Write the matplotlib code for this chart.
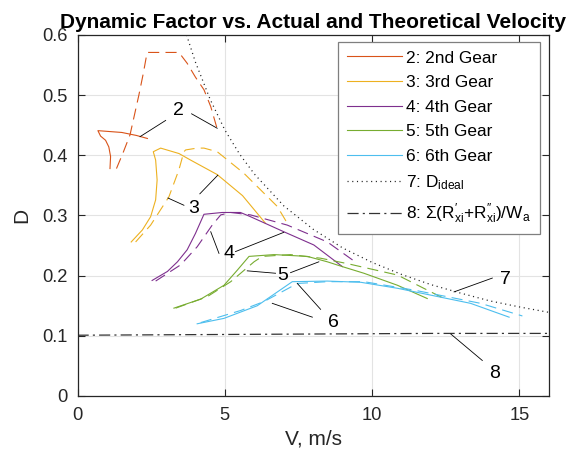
import matplotlib
matplotlib.use('Agg')
import matplotlib.pyplot as plt

plt.rcParams['font.family'] = ['Liberation Sans', 'DejaVu Sans']
plt.rcParams['mathtext.fontset'] = 'custom'
plt.rcParams['mathtext.rm'] = 'Liberation Sans'
plt.rcParams['mathtext.it'] = 'Liberation Sans:italic'
plt.rcParams['lines.scale_dashes'] = False

# gear curves, solid (actual) and dashed (theoretical)
v2 = [1.10, 1.12, 1.06, 0.95, 0.78, 0.69, 1.5, 2.0, 2.37]
d2 = [0.378, 0.398, 0.414, 0.425, 0.432, 0.441, 0.438, 0.433, 0.428]
v2_th = [1.32, 1.55, 1.78, 2.08, 2.23, 2.36, 2.9, 3.44, 3.72, 4.0, 4.29, 4.52, 4.78]
d2_th = [0.378, 0.405, 0.434, 0.500, 0.536, 0.571, 0.571, 0.571, 0.553, 0.530, 0.509, 0.481, 0.437]

v3 = [1.82, 2.20, 2.48, 2.65, 2.70, 2.65, 2.57, 2.82, 3.44, 3.84, 4.74, 5.6, 6.38]
d3 = [0.256, 0.276, 0.298, 0.326, 0.359, 0.392, 0.406, 0.412, 0.403, 0.392, 0.368, 0.333, 0.287]
v3_th = [1.97, 2.48, 3.10, 3.44, 3.61, 3.67, 4.06, 4.29, 4.74, 5.65, 6.78, 7.12]
d3_th = [0.256, 0.284, 0.331, 0.376, 0.406, 0.409, 0.412, 0.412, 0.406, 0.370, 0.315, 0.287]

v4 = [2.53, 3.05, 3.39, 3.72, 4.0, 4.29, 4.91, 5.53, 5.87, 7.0, 8.02, 8.99]
d4 = [0.192, 0.207, 0.223, 0.243, 0.270, 0.302, 0.305, 0.305, 0.298, 0.273, 0.251, 0.215]
v4_th = [2.65, 3.5, 4.06, 4.57, 4.86, 5.2, 5.87, 7.12, 8.48, 9.45]
d4_th = [0.191, 0.218, 0.248, 0.284, 0.301, 0.305, 0.301, 0.284, 0.256, 0.222]

v5 = [3.27, 4.18, 4.97, 5.42, 5.82, 6.67, 7.80, 8.48, 8.99, 9.72, 10.86, 11.87]
d5 = [0.146, 0.161, 0.184, 0.209, 0.232, 0.235, 0.232, 0.223, 0.215, 0.204, 0.184, 0.162]
v5_th = [3.33, 4.40, 5.2, 5.99, 6.27, 7.23, 8.25, 9.16, 10.86, 12.44]
d5_th = [0.146, 0.165, 0.190, 0.223, 0.232, 0.235, 0.229, 0.220, 0.201, 0.162]

v6 = [4.06, 4.97, 6.10, 7.29, 8.48, 9.61, 10.86, 13.34, 14.65]
d6 = [0.120, 0.129, 0.150, 0.190, 0.191, 0.189, 0.179, 0.154, 0.131]
v6_th = [4.18, 5.53, 6.33, 7.46, 8.48, 9.72, 11.42, 13.68, 15.1]
d6_th = [0.122, 0.142, 0.157, 0.187, 0.190, 0.190, 0.176, 0.154, 0.133]

v_ideal = [3.7, 4.0, 4.5, 5, 5.5, 6, 7, 8, 9, 10, 11, 12, 13, 14, 15, 16]
d_ideal = [0.600, 0.555, 0.493, 0.442, 0.402, 0.369, 0.316, 0.277, 0.246, 0.222,
           0.202, 0.185, 0.171, 0.158, 0.148, 0.139]

v_res = [0, 4, 8, 12, 16]
d_res = [0.101, 0.102, 0.103, 0.104, 0.104]

gear_colors = ['#D95319', '#EDB120', '#7E2F8E', '#77AC30', '#4DBEEE']
gear_labels = ['2: 2nd Gear', '3: 3rd Gear', '4: 4th Gear', '5: 5th Gear', '6: 6th Gear']

# number labels: (text x, text y, list of leader lines)
labels = {
    '2': (3.41, 0.475, [((2.99, 0.458), (2.12, 0.431)), ((3.87, 0.469), (4.74, 0.445))]),
    '3': (3.95, 0.312, [((3.61, 0.317), (3.07, 0.329)), ((4.15, 0.336), (4.76, 0.367))]),
    '4': (5.14, 0.237, [((4.80, 0.237), (4.52, 0.273)), ((5.36, 0.240), (7.0, 0.272))]),
    '5': (6.95, 0.201, [((6.72, 0.204), (5.76, 0.208)), ((7.23, 0.205), (8.19, 0.223))]),
    '6': (8.68, 0.122, [((7.97, 0.131), (6.61, 0.154)), ((8.25, 0.144), (7.46, 0.187))]),
    '7': (14.53, 0.193, [((14.08, 0.196), (12.78, 0.173))]),
    '8': (14.14, 0.038, [((13.74, 0.059), (12.67, 0.103))]),
}

fig = plt.figure(figsize=(5.79, 4.55), dpi=100)
ax = fig.add_axes([0.134, 0.1297, 0.814, 0.7934])

solid = [(v2, d2), (v3, d3), (v4, d4), (v5, d5), (v6, d6)]
dashed = [(v2_th, d2_th), (v3_th, d3_th), (v4_th, d4_th), (v5_th, d5_th), (v6_th, d6_th)]
handles = []
for (vs, ds), (vt, dt), c, lab in zip(solid, dashed, gear_colors, gear_labels):
    h, = ax.plot(vs, ds, color=c, lw=0.8, label=lab)
    ax.plot(vt, dt, color=c, lw=0.8, dashes=(8, 4.5))
    handles.append(h)

h7, = ax.plot(v_ideal, d_ideal, color='#222222', lw=0.9, linestyle=(0, (0.8, 2.6)),
              label='7: D$_{\\mathrm{ideal}}$')
h8, = ax.plot(v_res, d_res, color='#333333', lw=0.9, dashes=(8, 3, 1.5, 3),
              label="8: $\\Sigma$(R$^{\\prime}_{\\mathrm{xi}}$+R$^{\\prime\\prime}_{\\mathrm{xi}}$)/W$_{\\mathrm{a}}$")
handles += [h7, h8]

for txt, (tx, ty, leaders) in labels.items():
    ax.text(tx, ty, txt, fontsize=14, ha='center', va='center')
    for (x0, y0), (x1, y1) in leaders:
        ax.plot([x0, x1], [y0, y1], color='black', lw=0.6)

ax.set_xlim(0, 16)
ax.set_ylim(0, 0.6)
ax.set_xticks([0, 5, 10, 15])
ax.set_yticks([0, 0.1, 0.2, 0.3, 0.4, 0.5, 0.6])
ax.set_yticklabels(['0', '0.1', '0.2', '0.3', '0.4', '0.5', '0.6'])
ax.grid(True, color='#e3e3e3', lw=0.8)
ax.set_axisbelow(True)
ax.tick_params(direction='in', top=True, right=True, labelsize=13.2, length=5,
               colors='#262626', width=0.8)
ax.tick_params(axis='y', pad=7)
ax.tick_params(axis='x', pad=8)
for s in ax.spines.values():
    s.set_color('#262626')
    s.set_linewidth(0.9)

ax.set_xlabel('V, m/s', fontsize=15, color='#262626', labelpad=4)
ax.set_ylabel('D', fontsize=15, color='#262626', labelpad=8)
ax.set_title('Dynamic Factor vs. Actual and Theoretical Velocity', fontsize=15,
             fontweight='bold', pad=5)

leg = ax.legend(handles=handles, loc='upper right', bbox_to_anchor=(0.981, 0.981),
                borderaxespad=0, fontsize=12.4, handlelength=3.2, handletextpad=0.25,
                fancybox=False, framealpha=1, edgecolor='#7f7f7f', labelspacing=0.55,
                borderpad=0.5)
leg.get_frame().set_linewidth(0.9)

fig.savefig('out.png', dpi=100)
